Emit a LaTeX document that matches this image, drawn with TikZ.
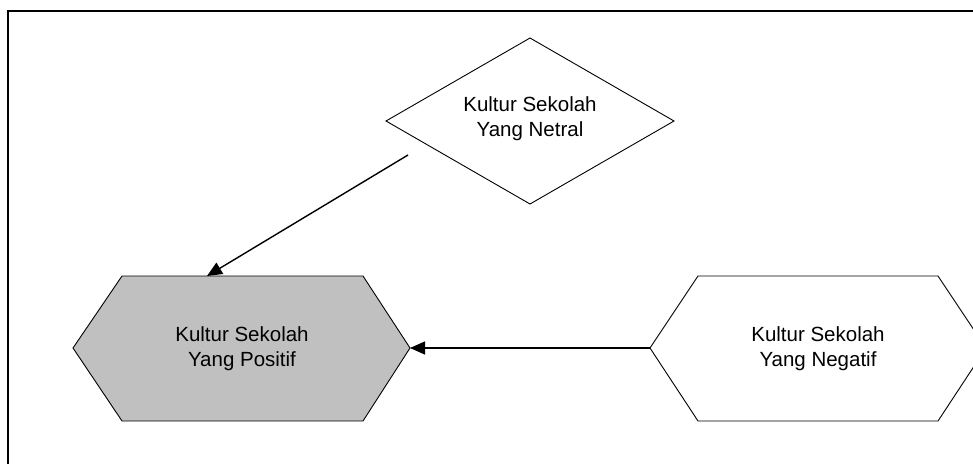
\documentclass[tikz,border=0pt]{standalone}
\usepackage{fontspec}
\setmainfont{Liberation Sans}
\usetikzlibrary{arrows.meta}
\begin{document}
\begin{tikzpicture}[x=1pt,y=-1pt,line join=miter]
\tikzset{
  shapeline/.style={draw=black, line width=0.9pt},
  lbl/.style={align=center, inner sep=0pt, font=\fontsize{20.5}{25}\selectfont},
  conn/.style={line width=1.4pt, -{Triangle[length=15pt,width=13pt]}}
}
\useasboundingbox (0,0) rectangle (973,463);
% frame
\draw[line width=2pt] (8,470) -- (8,11) -- (980,11);
% diamond
\draw[shapeline, fill=white] (386,121) -- (530,38) -- (674,121) -- (530,204) -- cycle;
\node[lbl] (netral) at (530,119) {Kultur Sekolah\\Yang Netral};
% left hexagon
\draw[shapeline, fill={rgb,255:red,192;green,192;blue,192}] (73,348) -- (122,276) -- (363,276) -- (410,348) -- (363,421) -- (122,421) -- cycle;
\coordinate (posright) at (410,348);
\coordinate (postop) at (207,276);
\node[lbl] (positif) at (242,349) {Kultur Sekolah\\Yang Positif};
% right hexagon
\draw[shapeline, fill=white] (650,348) -- (698,276) -- (938,276) -- (986,348) -- (938,421) -- (698,421) -- cycle;
\coordinate (negleft) at (650,348);
\node[lbl] (negatif) at (818,349) {Kultur Sekolah\\Yang Negatif};
% connectors
\coordinate (netralfoot) at (408,155);
\draw[conn] (netralfoot) -- (postop);
\draw[conn] (negleft) -- (posright);
\end{tikzpicture}
\end{document}
